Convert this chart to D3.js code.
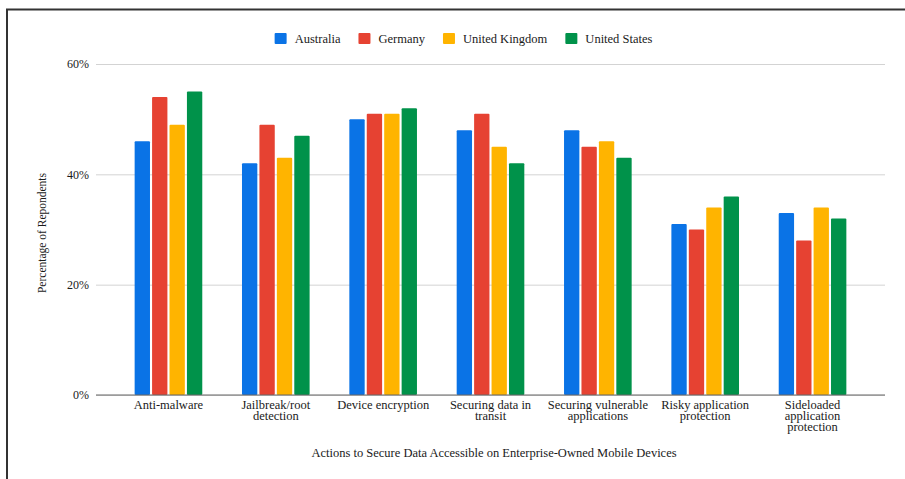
<!DOCTYPE html>
<html>
<head>
<meta charset="utf-8">
<script src="https://cdn.jsdelivr.net/npm/d3@7"></script>
<style>
  body { margin: 0; background: #fff; }
  svg text { font-family: "Liberation Serif", "DejaVu Serif", serif !important; fill: #1a1a1a; }
</style>
</head>
<body>
<div id="canvas"></div>
<script>
"use strict"

/* Data */
let categories = [
    "Anti-malware",
    "Jailbreak/root\ndetection",
    "Device encryption",
    "Securing data in\ntransit",
    "Securing vulnerable\napplications",
    "Risky application\nprotection",
    "Sideloaded\napplication\nprotection"
];
let countries = ["Australia", "Germany", "United Kingdom", "United States"];
let australia = [46, 42, 50, 48, 48, 31, 33];
let germany = [54, 49, 51, 51, 45, 30, 28];
let unitedKingdom = [49, 43, 51, 45, 46, 34, 34];
let unitedStates = [55, 47, 52, 42, 43, 36, 32];
let yTicks = [0, 20, 40, 60];

let seriesValues = [australia, germany, unitedKingdom, unitedStates];
let colors = ["#0a73e6", "#e64232", "#ffb400", "#00924a"];

/* Drawing config */
let svgWidth = 905;
let svgHeight = 479;
let plotLeft = 96, plotRight = 885, plotTop = 64, plotBottom = 395;
let fontFamily = "'Liberation Serif', 'DejaVu Serif', serif";

let svg = d3.select("#canvas")
    .append("svg")
    .attr("width", svgWidth)
    .attr("height", svgHeight)
    .attr("font-family", fontFamily);

/* frame line on top and left */
svg.append("path")
    .attr("d", "M7,479 V9.5 H905")
    .attr("fill", "none")
    .attr("stroke", "#333")
    .attr("stroke-width", 2);

/* scales */
let xScale = d3.scaleBand()
    .domain(categories)
    .range([plotLeft, plotRight])
    .paddingInner(0.37)
    .paddingOuter(0.36);

let x1Scale = d3.scaleBand()
    .domain(countries)
    .range([0, xScale.bandwidth()])
    .paddingInner(0.12)
    .paddingOuter(0);

let yScale = d3.scaleLinear()
    .domain([0, 60])
    .range([plotBottom, plotTop]);

/* gridlines + y labels */
let yAxis = d3.axisLeft(yScale)
    .tickValues(yTicks)
    .tickSize(-(plotRight - plotLeft))
    .tickPadding(7)
    .tickFormat(d => d + "%");

let yAxisG = svg.append("g")
    .attr("transform", `translate(${plotLeft},0)`)
    .call(yAxis)
    .attr("font-family", fontFamily);
yAxisG.select(".domain").remove();
yAxisG.selectAll("line").attr("stroke", "#d3d3d3");
yAxisG.selectAll("text")
    .attr("font-size", 12)
    .attr("fill", "#1a1a1a");

/* bars */
let rows = [];
categories.forEach((c, i) => {
    countries.forEach((k, j) => {
        rows.push({ category: c, country: k, value: seriesValues[j][i], color: colors[j] });
    });
});

svg.selectAll("rect.bar")
    .data(rows)
    .join("rect")
    .attr("class", "bar")
    .attr("x", d => xScale(d.category) + x1Scale(d.country))
    .attr("y", d => yScale(d.value))
    .attr("width", x1Scale.bandwidth())
    .attr("height", d => yScale(0) - yScale(d.value))
    .attr("rx", 1)
    .attr("fill", d => d.color);

/* baseline */
svg.append("line")
    .attr("x1", plotLeft)
    .attr("x2", plotRight)
    .attr("y1", yScale(0))
    .attr("y2", yScale(0))
    .attr("stroke", "#666")
    .attr("stroke-width", 1.2);

/* x category labels, multi-line */
categories.forEach(c => {
    let t = svg.append("text")
        .attr("x", xScale(c) + xScale.bandwidth() / 2)
        .attr("y", plotBottom + 14)
        .attr("text-anchor", "middle")
        .attr("font-size", 12.5);
    c.split("\n").forEach((line, i) => {
        t.append("tspan")
            .attr("x", xScale(c) + xScale.bandwidth() / 2)
            .attr("dy", i === 0 ? 0 : 11)
            .text(line);
    });
});

/* axis titles */
svg.append("text")
    .attr("x", 494)
    .attr("y", 457)
    .attr("text-anchor", "middle")
    .attr("font-size", 12.5)
    .text("Actions to Secure Data Accessible on Enterprise-Owned Mobile Devices");

svg.append("text")
    .attr("transform", "translate(46,233) rotate(-90)")
    .attr("text-anchor", "middle")
    .attr("font-size", 11.5)
    .text("Percentage of Repondents");

/* legend */
let legend = svg.append("g");
let lx = 0;
countries.forEach((k, i) => {
    legend.append("rect")
        .attr("x", lx)
        .attr("y", 33)
        .attr("width", 12)
        .attr("height", 11)
        .attr("rx", 1)
        .attr("fill", colors[i]);
    let txt = legend.append("text")
        .attr("x", lx + 20)
        .attr("y", 42.5)
        .attr("font-size", 12.5)
        .text(k);
    lx += 20 + txt.node().getComputedTextLength() + 18;
});
let legendWidth = lx - 18;
legend.attr("transform", `translate(${463.5 - legendWidth / 2},0)`);
</script>
</body>
</html>
